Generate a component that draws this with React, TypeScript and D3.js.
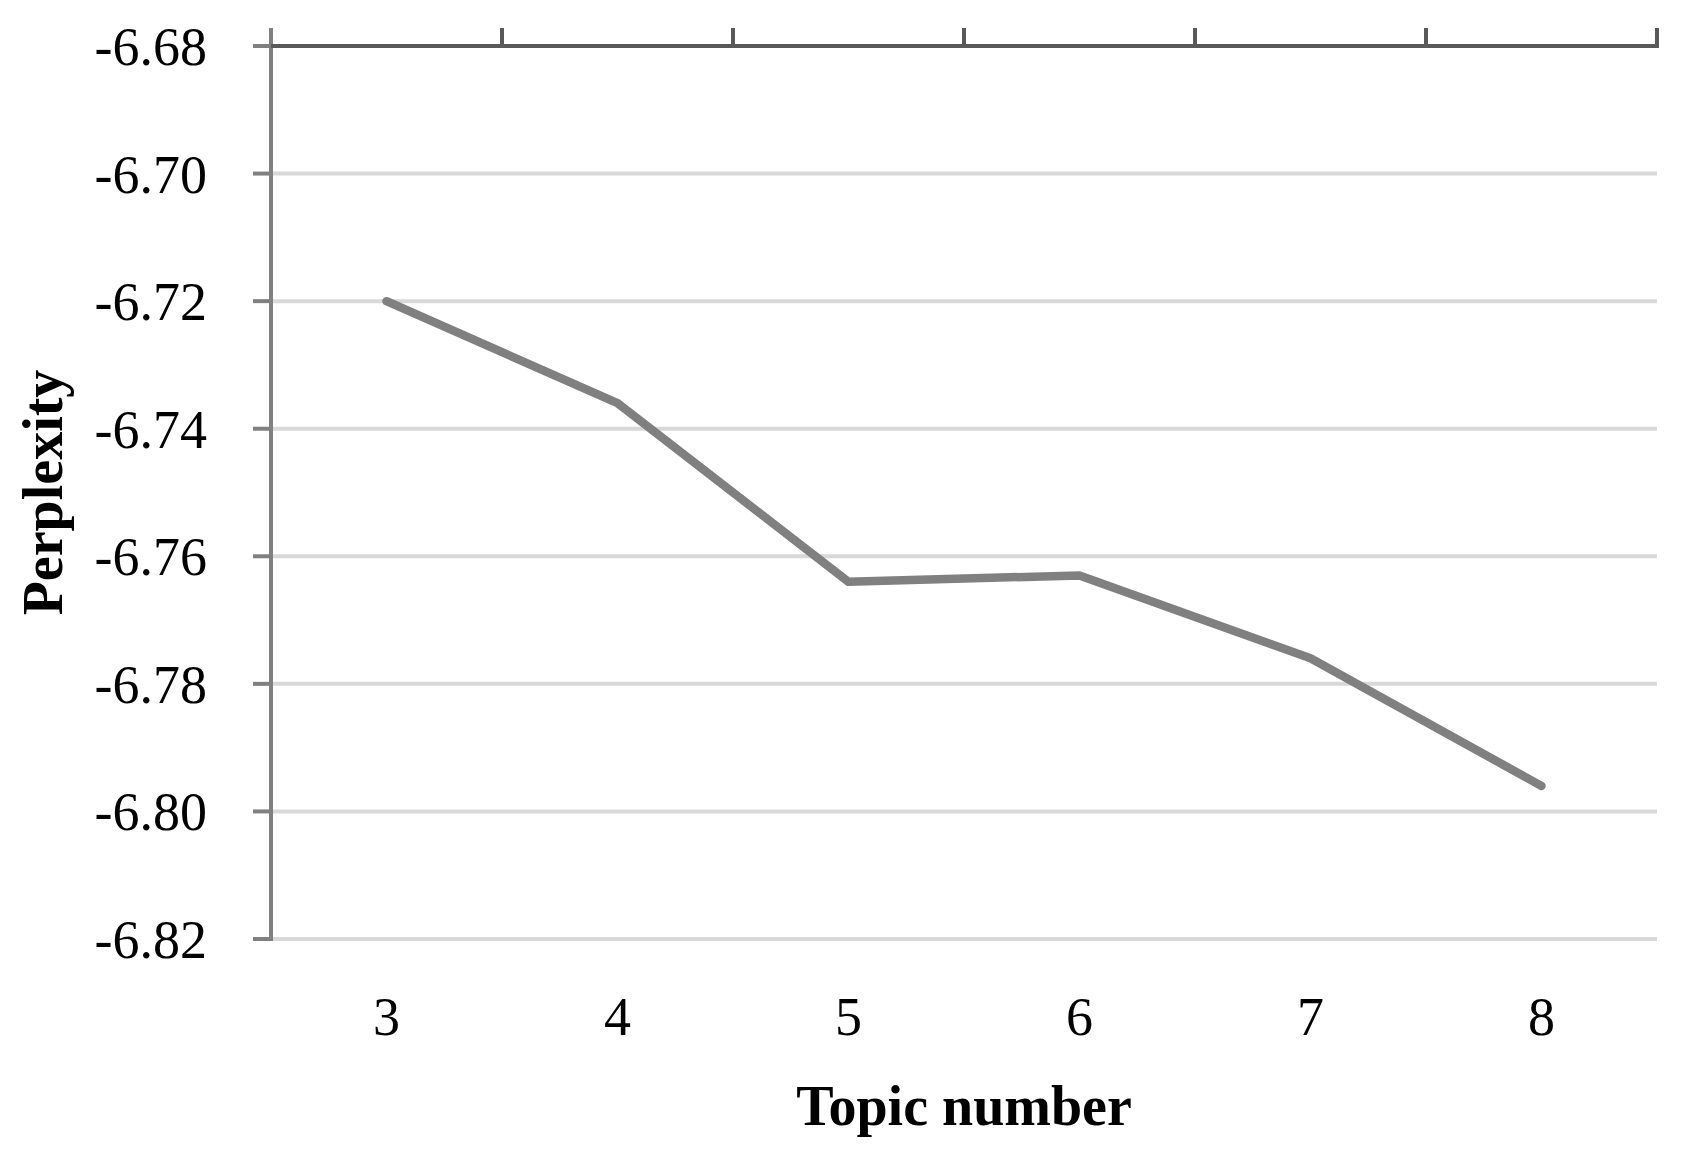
import * as d3 from "d3";

const topics = ["3", "4", "5", "6", "7", "8"];
const perplexity = [-6.72, -6.736, -6.764, -6.763, -6.776, -6.796];
const yTicks = [-6.68, -6.7, -6.72, -6.74, -6.76, -6.78, -6.8, -6.82];

export default function App() {
  const width = 1689;
  const height = 1165;
  const marginLeft = 271;
  const marginRight = 32;
  const marginTop = 46;
  const plotBottom = 939;

  const x = d3.scaleBand().domain(topics).range([marginLeft, width - marginRight]).padding(0);
  const y = d3.scaleLinear().domain([-6.82, -6.68]).range([plotBottom, marginTop]);
  const cx = (d) => x(d) + x.bandwidth() / 2;

  const line = d3.line()
    .x((d, i) => cx(topics[i]))
    .y((d) => y(d));

  const boundaries = topics.map((t) => x(t)).concat([width - marginRight]);
  const font = "'Liberation Serif', 'Times New Roman', serif";

  return (
    <svg width={width} height={height} style={{ position: "absolute", left: 0, top: 0, background: "#fff" }}>
      {/* gridlines */}
      {yTicks.slice(1).map((t) => (
        <line key={t} x1={marginLeft} x2={width - marginRight} y1={y(t)} y2={y(t)} stroke="#d9d9d9" strokeWidth={4} />
      ))}
      {/* left axis */}
      <line x1={marginLeft} x2={marginLeft} y1={marginTop - 18} y2={plotBottom + 2} stroke="#808080" strokeWidth={4} />
      {yTicks.map((t) => (
        <g key={t}>
          <line x1={marginLeft - 18} x2={marginLeft} y1={y(t)} y2={y(t)} stroke="#808080" strokeWidth={4} />
          <text x={207} y={y(t) + 19} textAnchor="end" fontFamily={font} fontSize={54} fill="#000">
            {t.toFixed(2)}
          </text>
        </g>
      ))}
      {/* top horizontal axis (crosses at max) */}
      <line x1={marginLeft} x2={width - marginRight + 2} y1={marginTop} y2={marginTop} stroke="#595959" strokeWidth={4} />
      {boundaries.slice(1).map((b, i) => (
        <line key={i} x1={b} x2={b} y1={marginTop - 18} y2={marginTop} stroke="#595959" strokeWidth={4} />
      ))}
      {/* x labels */}
      {topics.map((t) => (
        <text key={t} x={cx(t)} y={1035} textAnchor="middle" fontFamily={font} fontSize={54} fill="#000">
          {t}
        </text>
      ))}
      {/* series */}
      <path d={line(perplexity)} fill="none" stroke="#808080" strokeWidth={8.5} strokeLinecap="round" strokeLinejoin="round" />
      {/* axis titles */}
      <text x={(marginLeft + width - marginRight) / 2} y={1125} textAnchor="middle" fontFamily={font} fontWeight="bold" fontSize={56} fill="#000">
        Topic number
      </text>
      <text transform={`translate(62,${(marginTop + plotBottom) / 2}) rotate(-90)`} textAnchor="middle" fontFamily={font} fontWeight="bold" fontSize={56} fill="#000">
        Perplexity
      </text>
    </svg>
  );
}
